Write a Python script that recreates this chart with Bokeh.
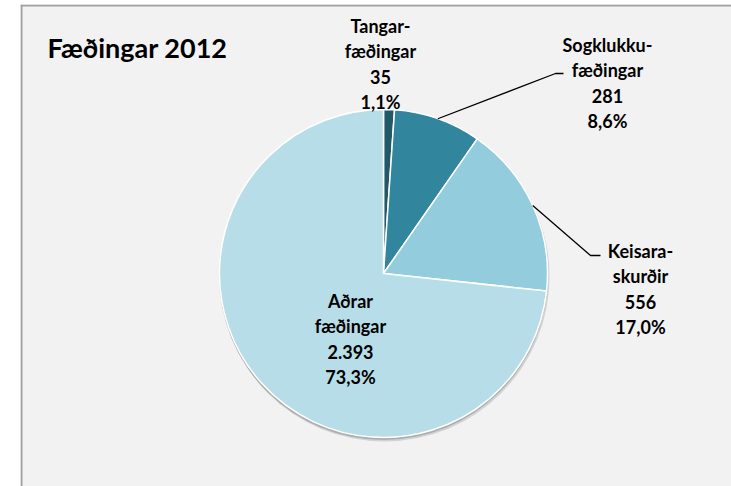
import math
from bokeh.plotting import figure
from bokeh.models import Range1d, ColumnDataSource, Span
from bokeh.core.properties import value
from bokeh.embed import file_html
from bokeh.resources import INLINE

# ---- data ----
title = "Fæðingar 2012"
categories = ["Tangar-\nfæðingar", "Sogklukku-\nfæðingar", "Keisara-\nskurðir", "Aðrar\nfæðingar"]
counts = [35, 281, 556, 2393]
colors = ["#215968", "#31859C", "#93CDDD", "#B7DEE8"]

# label layout (first-line centre, offsets relative to pie centre in px) and leader ends
label_anchor = [(-3, 248), (224, 229), (257, 23), (-33, -27)]
leader_ends = [None, [(172, 200), (180, 200)], [(207, 18), (217, 18)], None]

FONT = "Lato"
R = 164
LINE_STEP = 25.5

total = sum(counts)
fracs = [c / total for c in counts]


def fmt_int(n):
    return f"{n:,}".replace(",", ".")


def fmt_pct(f):
    return f"{f * 100:.1f}".replace(".", ",") + "%"


starts, ends, mids = [], [], []
cum = 0.0
for f in fracs:
    a0 = math.pi / 2 - cum * 2 * math.pi
    cum += f
    a1 = math.pi / 2 - cum * 2 * math.pi
    starts.append(a0)
    ends.append(a1)
    mids.append((a0 + a1) / 2)

src = ColumnDataSource(dict(start=starts, end=ends, color=colors))

p = figure(width=731, height=486, output_backend="svg", toolbar_location=None,
           x_range=Range1d(-363, 348), y_range=Range1d(-213, 269),
           min_border_left=20, min_border_right=0, min_border_top=4, min_border_bottom=0,
           x_axis_type=None, y_axis_type=None)
p.grid.visible = False
p.background_fill_color = "#F2F2F2"
p.border_fill_color = "white"
p.outline_line_color = None

# chart-area border (left and top edges; the rest runs past the window)
p.add_layout(Span(location=-362, dimension="height", line_color="#A0A0A0", line_width=2))
p.add_layout(Span(location=268, dimension="width", line_color="#A0A0A0", line_width=2))

# shadow
p.circle(x=[1], y=[-3], radius=R + 1, fill_color="#404040", fill_alpha=0.18, line_color=None)
p.circle(x=[0], y=[-2], radius=R + 0.5, fill_color="#404040", fill_alpha=0.25, line_color=None)

p.wedge(x=0, y=0, radius=R, start_angle="start", end_angle="end", direction="clock",
        fill_color="color", line_color="white", line_width=1.5, source=src)

# leader lines
for i, le in enumerate(leader_ends):
    if le is None:
        continue
    sx = R * math.cos(mids[i])
    sy = R * math.sin(mids[i])
    xs = [sx] + [pt[0] for pt in le]
    ys = [sy] + [pt[1] for pt in le]
    p.line(xs, ys, line_color="black", line_width=1.3)

# labels
tx, ty, tt = [], [], []
for i, cat in enumerate(categories):
    lines = cat.split("\n") + [fmt_int(counts[i]), fmt_pct(fracs[i])]
    ax, ay = label_anchor[i]
    for j, ln in enumerate(lines):
        tx.append(ax)
        ty.append(ay - j * LINE_STEP)
        tt.append(ln)
p.text(x=tx, y=ty, text=tt, text_font=value(FONT), text_font_style="bold",
       text_font_size="18px", text_align="center", text_baseline="middle", text_color="black")

p.text(x=[-336], y=[226], text=[title], text_font=value(FONT), text_font_style="bold",
       text_font_size="27px", text_align="left", text_baseline="middle", text_color="black")

open("out.html", "w").write(file_html(p, INLINE))
